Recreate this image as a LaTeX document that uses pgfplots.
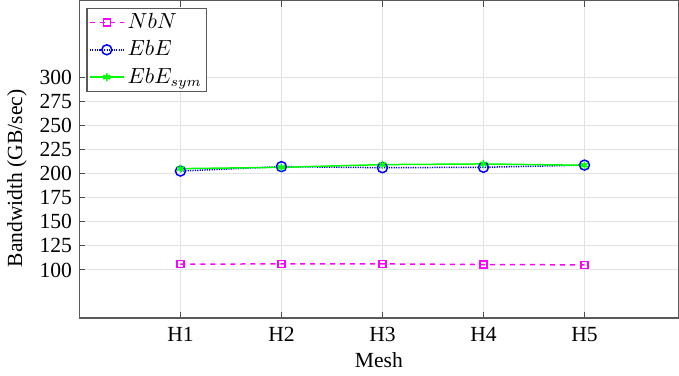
\documentclass[border=0pt]{standalone}
\usepackage{fontspec}
\setmainfont{Liberation Serif}
\usepackage{pgfplots}
\pgfplotsset{compat=1.18}
\begin{document}
\fontsize{10.8pt}{12.5pt}\selectfont
\begin{tikzpicture}
\begin{axis}[
  scale only axis,
  width=300pt, height=159pt,
  xmin=0, xmax=5.93,
  ymin=50, ymax=380,
  xtick={1,2,3,4,5},
  xticklabels={H1,H2,H3,H4,H5},
  ytick={100,125,150,175,200,225,250,275,300},
  /pgf/number format/assume math mode=true,
  tick align=inside,
  xtick pos=both, ytick pos=left,
  major tick length=3pt,
  grid=major,
  major grid style={gray!22, line width=0.5pt},
  axis line style={black!65, line width=0.6pt},
  tick style={black!70, line width=0.5pt},
  xticklabel style={yshift=-1pt},
  xlabel={Mesh},
  ylabel={Bandwidth (GB/sec)},
  xlabel style={yshift=2pt},
  ylabel style={at={(ticklabel cs:0.44)}, yshift=-1pt},
  legend style={at={(0,1)}, anchor=north west, xshift=3.5pt, yshift=-3.5pt,
    draw=black!65, line width=0.6pt, font=\fontsize{10.6pt}{12pt}\selectfont,
    inner sep=1pt, row sep=1.5pt, legend cell align=left,
    nodes={inner sep=1.5pt}},
  legend image code/.code={
    \draw[mark repeat=2,mark phase=2] plot coordinates {(0cm,0cm) (0.3cm,0cm) (0.6cm,0cm)};},
]
\addplot[color={rgb,255:red,255;green,0;blue,255}, line width=0.75pt, dash pattern=on 2.5pt off 2.5pt,
  mark=square, mark size=1.75pt, mark options={solid}]
  coordinates {(1,106.0) (2,106.3) (3,106.3) (4,105.6) (5,105.3)};
\addlegendentry{$NbN$}
\addplot[color={rgb,255:red,0;green,0;blue,255}, line width=0.75pt, dash pattern=on 0.6pt off 0.6pt,
  mark=o, mark size=2.5pt, mark options={solid}]
  coordinates {(1,202.8) (2,207.4) (3,206.3) (4,206.7) (5,209.0)};
\addlegendentry{$EbE$}
\addplot[color={rgb,255:red,0;green,255;blue,0}, line width=0.75pt,
  mark=asterisk, mark size=2pt, mark options={solid}]
  coordinates {(1,205.3) (2,206.7) (3,209.5) (4,210.2) (5,208.8)};
\addlegendentry{$EbE_{sym}$}
\end{axis}
\end{tikzpicture}
\end{document}
